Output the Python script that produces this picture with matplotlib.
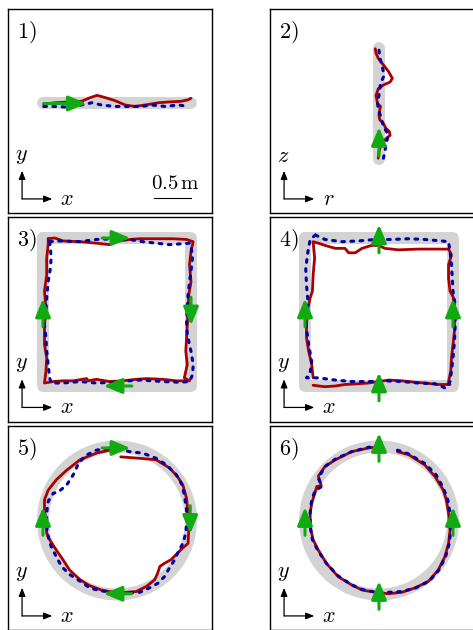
import matplotlib.pyplot as plt
from matplotlib.patches import Circle

plt.rcParams['mathtext.fontset'] = 'cm'

# ---- data (metres) ----
# panel 1: straight line along x
p1_ref_x = [-1.0, 1.0]
p1_ref_y = [0.0, 0.0]
p1_red_x = [-0.99, -0.84, -0.66, -0.48, -0.36, -0.27, -0.16, -0.03, 0.11, 0.24, 0.38, 0.56, 0.69, 0.87, 0.96, 1.0]
p1_red_y = [-0.01, 0.01, 0.02, 0.03, 0.08, 0.11, 0.08, 0.04, -0.02, -0.04, -0.02, 0.01, 0.02, 0.03, 0.05, 0.07]
p1_blue_x = [-0.99, -0.84, -0.66, -0.48, -0.34, -0.21, -0.03, 0.15, 0.33, 0.47, 0.65, 0.83, 0.96]
p1_blue_y = [-0.04, -0.04, -0.05, -0.02, 0.01, -0.02, -0.04, -0.04, -0.04, -0.02, -0.04, -0.02, -0.04]
p1_arrows = [(-0.99, 0.0, 0.58, 0.0)]

# panel 2: straight line along z
p2_ref_x = [0.0, 0.0]
p2_ref_y = [-0.75, 0.75]
p2_red_x = [-0.05, -0.04, -0.01, 0.06, 0.13, 0.18, 0.15, 0.06, -0.01, -0.04, -0.02, 0.02, 0.01, 0.0,
            0.01, 0.06, 0.09, 0.14, 0.15, 0.10, 0.06, 0.02, 0.0, -0.01]
p2_red_y = [0.74, 0.68, 0.61, 0.52, 0.43, 0.34, 0.29, 0.25, 0.20, 0.11, 0.0, -0.04, -0.09, -0.16,
            -0.22, -0.27, -0.33, -0.38, -0.43, -0.47, -0.52, -0.58, -0.65, -0.74]
p2_blue_x = [0.0, 0.01, 0.05, 0.07, 0.02, 0.0, -0.02, -0.01, 0.02, 0.06, 0.13, 0.10, 0.08, 0.06]
p2_blue_y = [0.72, 0.63, 0.47, 0.38, 0.27, 0.11, 0.02, -0.09, -0.16, -0.31, -0.43, -0.52, -0.65, -0.74]
p2_arrows = [(0.0, -0.71, 0.0, 0.39)]

# panels 3 and 4: square of side 2 m
square_x = [-1.0, 1.0, 1.0, -1.0, -1.0]
square_y = [1.0, 1.0, -1.0, -1.0, 1.0]
p3_red_x = [-0.93, -0.84, -0.73, -0.50, -0.28, -0.10, -0.03, 0.17, 0.31, 0.53, 0.76, 0.94, 1.03,
            1.00, 0.98, 1.00, 0.97, 0.96, 0.95, 0.94, 0.93, 0.95, 0.91, 0.98,
            0.80, 0.62, 0.40, 0.26, 0.08, -0.10, -0.28, -0.39, -0.41, -0.59, -0.73, -0.86, -0.98,
            -0.96, -0.95, -0.98, -0.98, -0.96, -0.98, -0.95, -0.95, -0.93, -0.93]
p3_red_y = [0.99, 1.00, 0.96, 0.95, 0.93, 0.91, 0.95, 0.98, 0.99, 0.99, 0.99, 0.98, 0.95,
            0.82, 0.64, 0.41, 0.23, 0.01, -0.17, -0.35, -0.53, -0.71, -0.89, -0.93,
            -0.93, -0.91, -0.90, -0.91, -0.93, -0.94, -0.91, -0.93, -0.90, -0.93, -0.93, -0.94, -0.96,
            -0.80, -0.62, -0.44, -0.17, 0.05, 0.28, 0.50, 0.73, 0.91, 0.99]
p3_blue_x = [-0.91, -0.77, -0.50, -0.28, -0.01, 0.17, 0.35, 0.53, 0.71, 0.85, 0.98,
             1.00, 1.02, 1.00, 0.98, 0.96, 0.95, 0.94, 0.95, 1.00, 1.03, 1.02, 0.98,
             0.85, 0.62, 0.31, 0.17, -0.05, -0.28, -0.50, -0.73, -0.89,
             -0.91, -0.93, -0.95, -0.96, -0.98, -0.96, -0.95, -0.93, -0.90, -0.89, -0.90, -0.91]
p3_blue_y = [0.95, 0.96, 0.95, 0.98, 0.99, 0.98, 0.95, 0.93, 0.91, 0.92, 0.93,
             0.91, 0.73, 0.55, 0.41, 0.23, 0.05, -0.13, -0.31, -0.53, -0.71, -0.85, -0.94,
             -0.95, -0.94, -0.92, -0.93, -0.95, -0.96, -0.94, -0.96, -0.96,
             -0.89, -0.71, -0.53, -0.35, -0.17, 0.01, 0.19, 0.41, 0.59, 0.73, 0.86, 0.95]
p3_arrows = [(-0.20, 1.0, 0.38, 0.0), (1.0, 0.20, 0.0, -0.38),
             (0.20, -1.0, -0.38, 0.0), (-1.0, -0.20, 0.0, 0.38)]

p4_red_x = [-0.89, -0.91, -0.95, -0.98, -0.98, -0.96, -0.93, -0.90, -0.89, -0.87, -0.89,
            -0.82, -0.73, -0.59, -0.46, -0.41, -0.32, -0.23, -0.10, -0.01, 0.08, 0.26, 0.53, 0.76, 0.94,
            0.98, 0.94, 0.94, 0.96, 1.00, 1.02, 1.02, 1.02, 1.00, 0.98, 0.97, 0.94, 0.96,
            0.80, 0.62, 0.49, 0.31, 0.13, -0.01, -0.14, -0.28, -0.46, -0.59, -0.73, -0.89]
p4_red_y = [-0.89, -0.71, -0.53, -0.35, -0.17, 0.05, 0.19, 0.28, 0.50, 0.73, 0.95,
            0.93, 0.90, 0.86, 0.86, 0.80, 0.80, 0.86, 0.90, 0.90, 0.86, 0.84, 0.85, 0.85, 0.85,
            0.77, 0.64, 0.46, 0.28, 0.21, 0.10, -0.08, -0.26, -0.44, -0.62, -0.80, -0.94, -0.98,
            -0.98, -0.96, -0.95, -0.93, -0.92, -0.94, -0.96, -0.97, -0.98, -1.00, -1.01, -0.99]
p4_blue_x = [-0.86, -0.73, -0.50, -0.28, -0.05, 0.17, 0.40, 0.62, 0.85, 0.94,
             0.96, 0.98, 0.99, 1.00, 1.03, 1.03, 1.02, 1.00, 0.98, 0.96, 0.90,
             0.76, 0.53, 0.31, 0.08, -0.14, -0.37, -0.59, -0.82, -0.98,
             -0.93, -0.91, -0.95, -0.98, -0.98, -0.96, -0.98, -0.99, -0.96, -0.93, -0.86]
p4_blue_y = [1.04, 0.98, 0.95, 0.96, 0.98, 0.98, 0.99, 0.98, 0.96, 0.95,
             0.82, 0.64, 0.46, 0.28, 0.10, -0.17, -0.40, -0.62, -0.80, -0.94, -1.03,
             -0.97, -0.96, -0.94, -0.93, -0.94, -0.94, -0.92, -0.89, -0.89,
             -0.82, -0.67, -0.44, -0.22, -0.04, 0.14, 0.37, 0.59, 0.82, 0.98, 1.04]
p4_arrows = [(0.0, 0.80, 0.0, 0.38), (-1.0, -0.20, 0.0, 0.38),
             (1.0, -0.20, 0.0, 0.38), (0.0, -1.20, 0.0, 0.38)]

# panels 5 and 6: circle of radius 1 m
circle_r = 1.0
p5_red_x = [0.05, 0.31, 0.53, 0.71, 0.82, 0.89, 0.94, 0.96, 0.97, 0.96, 0.89, 0.80, 0.73, 0.64,
            0.58, 0.55, 0.51, 0.40, 0.26, 0.13, -0.05, -0.21, -0.37, -0.50, -0.64, -0.73, -0.82,
            -0.91, -0.95, -0.96, -0.98, -0.98, -0.93, -0.82, -0.68, -0.50, -0.28, -0.10, 0.01]
p5_red_y = [0.86, 0.84, 0.82, 0.71, 0.59, 0.48, 0.30, 0.10, -0.13, -0.31, -0.37, -0.46, -0.53, -0.58,
            -0.62, -0.71, -0.80, -0.89, -0.96, -0.97, -0.97, -0.94, -0.88, -0.80, -0.67, -0.53, -0.40,
            -0.26, -0.17, 0.01, 0.14, 0.28, 0.41, 0.55, 0.68, 0.82, 0.91, 0.95, 0.96]
p5_blue_x = [-0.10, -0.01, 0.17, 0.35, 0.53, 0.67, 0.80, 0.87, 0.91, 0.94, 0.94, 0.93, 0.89, 0.82,
             0.78, 0.71, 0.64, 0.55, 0.44, 0.31, 0.13, -0.05, -0.23, -0.37, -0.50, -0.64, -0.75,
             -0.82, -0.89, -0.93, -0.95, -0.95, -0.93, -0.86, -0.80, -0.68, -0.59, -0.53, -0.44,
             -0.28, -0.10]
p5_blue_y = [0.98, 0.98, 0.93, 0.91, 0.84, 0.75, 0.62, 0.50, 0.35, 0.14, -0.04, -0.17, -0.31, -0.44,
             -0.53, -0.64, -0.76, -0.85, -0.91, -0.97, -0.98, -0.97, -0.95, -0.91, -0.82, -0.73, -0.62,
             -0.49, -0.35, -0.22, -0.08, 0.10, 0.26, 0.37, 0.38, 0.48, 0.62, 0.75, 0.87,
             0.95, 0.98]
p5_arrows = [(-0.20, 0.98, 0.38, 0.0), (0.99, 0.20, 0.0, -0.38),
             (0.20, -0.99, -0.38, 0.0), (-1.0, -0.20, 0.0, 0.38)]

p6_red_x = [0.25, 0.40, 0.62, 0.76, 0.87, 0.91, 0.94, 0.96, 0.94, 0.89, 0.80, 0.67, 0.49, 0.31,
            0.13, -0.05, -0.23, -0.37, -0.55, -0.71, -0.82, -0.89, -0.93, -0.93, -0.91, -0.84,
            -0.78, -0.82, -0.73, -0.59, -0.37, -0.14, 0.04]
p6_red_y = [0.93, 0.89, 0.75, 0.59, 0.41, 0.28, 0.10, -0.13, -0.31, -0.49, -0.67, -0.82, -0.91, -0.97,
            -0.99, -0.97, -0.94, -0.87, -0.76, -0.58, -0.40, -0.26, -0.08, 0.10, 0.23, 0.46,
            0.47, 0.60, 0.73, 0.82, 0.93, 0.98, 1.00]
p6_blue_x = [0.25, 0.40, 0.62, 0.77, 0.87, 0.93, 0.96, 0.97, 0.95, 0.90, 0.81, 0.68, 0.50, 0.31,
             0.13, -0.05, -0.23, -0.37, -0.55, -0.71, -0.83, -0.90, -0.93, -0.93, -0.91, -0.86,
             -0.77, -0.82, -0.73, -0.59, -0.37, -0.14, 0.01]
p6_blue_y = [0.95, 0.90, 0.77, 0.62, 0.44, 0.28, 0.10, -0.13, -0.31, -0.49, -0.67, -0.82, -0.91, -0.96,
             -0.97, -0.97, -0.93, -0.87, -0.75, -0.58, -0.40, -0.26, -0.08, 0.10, 0.28, 0.41,
             0.46, 0.57, 0.73, 0.83, 0.93, 0.99, 1.00]
p6_arrows = [(0.0, 0.80, 0.0, 0.38), (-1.0, -0.20, 0.0, 0.38),
             (1.0, -0.20, 0.0, 0.38), (0.0, -1.20, 0.0, 0.38)]

panel_labels = ['1)', '2)', '3)', '4)', '5)', '6)']
axis_names = [('x', 'y'), ('r', 'z'), ('x', 'y'), ('x', 'y'), ('x', 'y'), ('x', 'y')]
scale_bar = [0.5, 1.0]

GRAY = '#d3d3d3'
RED = '#aa0000'
BLUE = '#0000aa'
GREEN = '#11aa11'

fig = plt.figure(figsize=(4.73, 6.30), dpi=100)
W, H, S = 473.0, 630.0, 204.0
corners = [(8, 9), (270, 9), (8, 217.5), (270, 217.5), (8, 426), (270, 426)]
axes = []
for (px, py) in corners:
    ax = fig.add_axes([px / W, 1 - (py + S) / H, S / W, S / H])
    ax.set_xlim(-1.473, 1.284)
    ax.set_ylim(-1.480, 1.277)
    ax.set_xticks([])
    ax.set_yticks([])
    for sp in ax.spines.values():
        sp.set_linewidth(1.0)
    axes.append(ax)


def draw_traj(ax, rx, ry, bx, by, arrows):
    ax.plot(rx, ry, color=RED, lw=2.0, solid_joinstyle='round', solid_capstyle='round', zorder=3)
    ax.plot(bx, by, color=BLUE, lw=2.2, linestyle=(0, (0.9, 2.1)), dash_capstyle='round', zorder=4)
    for (x, y, u, v) in arrows:
        ax.annotate('', xy=(x + u, y + v), xytext=(x, y),
                    arrowprops=dict(arrowstyle='-|>,head_length=1.0,head_width=0.42',
                                    lw=2.2, color=GREEN, shrinkA=0, shrinkB=0,
                                    mutation_scale=11), zorder=5)


def ref_line(ax, x, y):
    ax.plot(x, y, color=GRAY, lw=8.6, solid_capstyle='round', solid_joinstyle='round', zorder=1)


ref_line(axes[0], p1_ref_x, p1_ref_y)
draw_traj(axes[0], p1_red_x, p1_red_y, p1_blue_x, p1_blue_y, p1_arrows)
ref_line(axes[1], p2_ref_x, p2_ref_y)
draw_traj(axes[1], p2_red_x, p2_red_y, p2_blue_x, p2_blue_y, p2_arrows)
ref_line(axes[2], square_x, square_y)
draw_traj(axes[2], p3_red_x, p3_red_y, p3_blue_x, p3_blue_y, p3_arrows)
ref_line(axes[3], square_x, square_y)
draw_traj(axes[3], p4_red_x, p4_red_y, p4_blue_x, p4_blue_y, p4_arrows)
for ax in axes[4:]:
    ax.add_patch(Circle((0, 0), circle_r, fill=False, edgecolor=GRAY, lw=8.6, zorder=1))
draw_traj(axes[4], p5_red_x, p5_red_y, p5_blue_x, p5_blue_y, p5_arrows)
draw_traj(axes[5], p6_red_x, p6_red_y, p6_blue_x, p6_blue_y, p6_arrows)

# labels and small coordinate indicators
for ax, lab, (hx, vy) in zip(axes, panel_labels, axis_names):
    ax.text(0.045, 0.95, '$' + lab + '$', transform=ax.transAxes, fontsize=16,
            ha='left', va='top')
    ax.annotate('', xy=(0.069, 0.207), xytext=(0.069, 0.069), xycoords='axes fraction',
                arrowprops=dict(arrowstyle='-|>,head_length=0.5,head_width=0.2', lw=0.9,
                                color='k', shrinkA=0, shrinkB=0, mutation_scale=10))
    ax.annotate('', xy=(0.217, 0.069), xytext=(0.069, 0.069), xycoords='axes fraction',
                arrowprops=dict(arrowstyle='-|>,head_length=0.5,head_width=0.2', lw=0.9,
                                color='k', shrinkA=0, shrinkB=0, mutation_scale=10))
    ax.text(0.064, 0.28, '$' + vy + '$', transform=ax.transAxes, fontsize=16,
            ha='center', va='center')
    ax.text(0.29, 0.069, '$' + hx + '$', transform=ax.transAxes, fontsize=16,
            ha='center', va='center')

# scale bar in panel 1
axes[0].plot(scale_bar, [-1.28, -1.28], color='k', lw=0.8)
axes[0].text(0.82, 0.145, r'$0.5\,\mathrm{m}$', transform=axes[0].transAxes, fontsize=15,
             ha='center', va='center')

fig.savefig('out.png', dpi=100)
